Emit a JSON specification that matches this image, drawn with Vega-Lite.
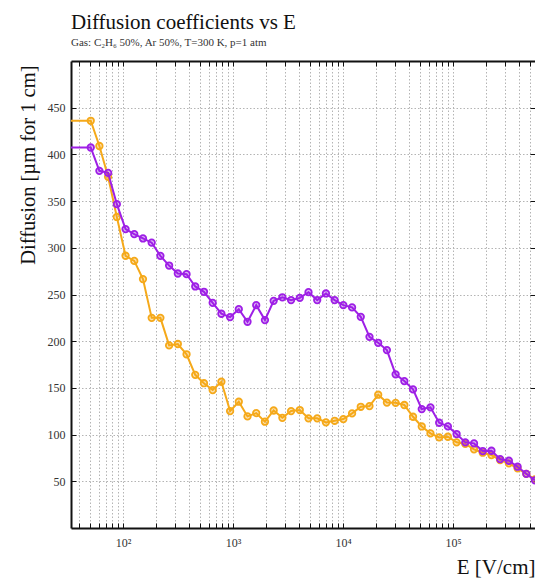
{
  "$schema": "https://vega.github.io/schema/vega-lite/v6.json",
  "width": 464,
  "height": 467,
  "autosize": {"type": "none"},
  "padding": {"left": 71, "top": 61, "right": 0, "bottom": 55},
  "background": "white",
  "title": {
    "text": "Diffusion coefficients vs E",
    "subtitle": "Gas: C₂H₆ 50%, Ar 50%, T=300 K, p=1 atm",
    "anchor": "start",
    "frame": "group",
    "font": "Liberation Serif",
    "fontSize": 21,
    "fontWeight": "normal",
    "color": "#111111",
    "subtitleFont": "Liberation Serif",
    "subtitleFontSize": 11,
    "subtitleColor": "#333333",
    "subtitlePadding": 4,
    "offset": 13
  },
  "config": {
    "view": {"stroke": null},
    "axis": {
      "labelFont": "Liberation Serif",
      "labelFontSize": 12,
      "labelColor": "#333333",
      "titleFont": "Liberation Serif",
      "titleFontWeight": "normal",
      "titleColor": "#111111",
      "domainColor": "#111111",
      "domainWidth": 2,
      "tickColor": "#111111",
      "tickWidth": 1,
      "gridColor": "#b4b4b4",
      "gridDash": [1.5, 2],
      "gridWidth": 1
    }
  },
  "data": {
    "values": [
      {"E": 30, "D": 436, "s": "L"},
      {"E": 50.9, "D": 436, "s": "L"},
      {"E": 61.0, "D": 409, "s": "L"},
      {"E": 73.2, "D": 376, "s": "L"},
      {"E": 87.9, "D": 333, "s": "L"},
      {"E": 105.5, "D": 291.5, "s": "L"},
      {"E": 126.6, "D": 286, "s": "L"},
      {"E": 151.9, "D": 266.5, "s": "L"},
      {"E": 182.3, "D": 225, "s": "L"},
      {"E": 218.8, "D": 225, "s": "L"},
      {"E": 262.6, "D": 195.5, "s": "L"},
      {"E": 315.1, "D": 197, "s": "L"},
      {"E": 378.2, "D": 186, "s": "L"},
      {"E": 453.8, "D": 164, "s": "L"},
      {"E": 544.5, "D": 155, "s": "L"},
      {"E": 653.5, "D": 147.7, "s": "L"},
      {"E": 784.2, "D": 156.6, "s": "L"},
      {"E": 941, "D": 125.2, "s": "L"},
      {"E": 1129, "D": 135.2, "s": "L"},
      {"E": 1355, "D": 119.5, "s": "L"},
      {"E": 1626, "D": 123, "s": "L"},
      {"E": 1952, "D": 113.8, "s": "L"},
      {"E": 2342, "D": 125.8, "s": "L"},
      {"E": 2811, "D": 118, "s": "L"},
      {"E": 3373, "D": 125.2, "s": "L"},
      {"E": 4048, "D": 126.3, "s": "L"},
      {"E": 4858, "D": 117.4, "s": "L"},
      {"E": 5829, "D": 117.4, "s": "L"},
      {"E": 6995, "D": 113.1, "s": "L"},
      {"E": 8395, "D": 114.8, "s": "L"},
      {"E": 10074, "D": 116.6, "s": "L"},
      {"E": 12090, "D": 122.7, "s": "L"},
      {"E": 14507, "D": 129.8, "s": "L"},
      {"E": 17410, "D": 130.5, "s": "L"},
      {"E": 20893, "D": 142.7, "s": "L"},
      {"E": 25070, "D": 134.3, "s": "L"},
      {"E": 30090, "D": 134, "s": "L"},
      {"E": 36110, "D": 131.7, "s": "L"},
      {"E": 43330, "D": 119.1, "s": "L"},
      {"E": 52000, "D": 108.7, "s": "L"},
      {"E": 62400, "D": 101.3, "s": "L"},
      {"E": 74880, "D": 97, "s": "L"},
      {"E": 89860, "D": 97.7, "s": "L"},
      {"E": 107840, "D": 91.7, "s": "L"},
      {"E": 129420, "D": 90, "s": "L"},
      {"E": 155310, "D": 84.2, "s": "L"},
      {"E": 186380, "D": 80.6, "s": "L"},
      {"E": 223670, "D": 78.1, "s": "L"},
      {"E": 268410, "D": 72.8, "s": "L"},
      {"E": 322100, "D": 69.2, "s": "L"},
      {"E": 386540, "D": 63.9, "s": "L"},
      {"E": 463870, "D": 58, "s": "L"},
      {"E": 556000, "D": 52, "s": "L"},
      {"E": 30, "D": 407.4, "s": "T"},
      {"E": 50.9, "D": 407.4, "s": "T"},
      {"E": 61.0, "D": 382.4, "s": "T"},
      {"E": 73.2, "D": 380.2, "s": "T"},
      {"E": 87.9, "D": 346.7, "s": "T"},
      {"E": 105.5, "D": 320, "s": "T"},
      {"E": 126.6, "D": 314.6, "s": "T"},
      {"E": 151.9, "D": 310, "s": "T"},
      {"E": 182.3, "D": 305.5, "s": "T"},
      {"E": 218.8, "D": 291.4, "s": "T"},
      {"E": 262.6, "D": 281, "s": "T"},
      {"E": 315.1, "D": 272.5, "s": "T"},
      {"E": 378.2, "D": 271.8, "s": "T"},
      {"E": 453.8, "D": 258.6, "s": "T"},
      {"E": 544.5, "D": 252.9, "s": "T"},
      {"E": 653.5, "D": 241.1, "s": "T"},
      {"E": 784.2, "D": 229.4, "s": "T"},
      {"E": 941, "D": 225.8, "s": "T"},
      {"E": 1129, "D": 234.3, "s": "T"},
      {"E": 1355, "D": 220.8, "s": "T"},
      {"E": 1626, "D": 238.6, "s": "T"},
      {"E": 1952, "D": 222.6, "s": "T"},
      {"E": 2342, "D": 243.2, "s": "T"},
      {"E": 2811, "D": 247, "s": "T"},
      {"E": 3373, "D": 244, "s": "T"},
      {"E": 4048, "D": 246.4, "s": "T"},
      {"E": 4858, "D": 252.5, "s": "T"},
      {"E": 5829, "D": 244, "s": "T"},
      {"E": 6995, "D": 251.1, "s": "T"},
      {"E": 8395, "D": 244, "s": "T"},
      {"E": 10074, "D": 238.6, "s": "T"},
      {"E": 12090, "D": 236.2, "s": "T"},
      {"E": 14507, "D": 226.1, "s": "T"},
      {"E": 17410, "D": 204.7, "s": "T"},
      {"E": 20893, "D": 198.3, "s": "T"},
      {"E": 25070, "D": 190.5, "s": "T"},
      {"E": 30090, "D": 164.5, "s": "T"},
      {"E": 36110, "D": 157.3, "s": "T"},
      {"E": 43330, "D": 148.4, "s": "T"},
      {"E": 52000, "D": 127.3, "s": "T"},
      {"E": 62400, "D": 129.2, "s": "T"},
      {"E": 74880, "D": 112.7, "s": "T"},
      {"E": 89860, "D": 108.8, "s": "T"},
      {"E": 107840, "D": 100.6, "s": "T"},
      {"E": 129420, "D": 91.7, "s": "T"},
      {"E": 155310, "D": 90.6, "s": "T"},
      {"E": 186380, "D": 82.4, "s": "T"},
      {"E": 223670, "D": 82.7, "s": "T"},
      {"E": 268410, "D": 73.8, "s": "T"},
      {"E": 322100, "D": 72, "s": "T"},
      {"E": 386540, "D": 65.6, "s": "T"},
      {"E": 463870, "D": 58, "s": "T"},
      {"E": 556000, "D": 51, "s": "T"}
    ]
  },
  "layer": [
    {
      "transform": [{"filter": "datum.s === 'L'"}],
      "mark": {"type": "line", "color": "#f5a91a", "strokeWidth": 2, "clip": true},
      "encoding": {
        "x": {
          "field": "E", "type": "quantitative",
          "scale": {"type": "log", "domain": [33.67, 556600], "nice": false},
          "axis": {
            "orient": "bottom",
            "values": [40,50,60,70,80,90,100,200,300,400,500,600,700,800,900,1000,2000,3000,4000,5000,6000,7000,8000,9000,10000,20000,30000,40000,50000,60000,70000,80000,90000,100000,200000,300000,400000,500000],
            "labelExpr": "datum.value == 100 ? '10²' : datum.value == 1000 ? '10³' : datum.value == 10000 ? '10⁴' : datum.value == 100000 ? '10⁵' : ''",
            "labelOverlap": false,
            "labelFlush": false,
            "labelBaseline": "top",
            "tickSize": -5,
            "labelPadding": 14,
            "grid": true,
            "title": "E [V/cm]",
            "titleFontSize": 21,
            "titleAnchor": "end",
            "titleAlign": "right",
            "titleBaseline": "alphabetic",
            "titleX": 464,
            "titleY": 45
          }
        },
        "y": {
          "field": "D", "type": "quantitative",
          "scale": {"domain": [0, 500], "nice": false},
          "axis": {
            "orient": "left",
            "values": [50,100,150,200,250,300,350,400,450],
            "tickSize": -5,
            "labelPadding": 11,
            "grid": true,
            "title": "Diffusion [µm for 1 cm]",
            "titleFontSize": 20.5,
            "titleAngle": 270,
            "titleAnchor": "end",
            "titleAlign": "right",
            "titleBaseline": "alphabetic",
            "titleX": -37,
            "titleY": 4
          }
        }
      }
    },
    {
      "transform": [{"filter": "datum.s === 'L'"}],
      "mark": {"type": "point", "filled": true, "color": "#f5a91a", "fillOpacity": 0.35, "stroke": "#f5a91a", "strokeWidth": 1.8, "size": 42, "clip": true},
      "encoding": {
        "x": {"field": "E", "type": "quantitative", "scale": {"type": "log", "domain": [33.67, 556600], "nice": false}, "axis": null},
        "y": {"field": "D", "type": "quantitative", "scale": {"domain": [0, 500], "nice": false}, "axis": null}
      }
    },
    {
      "transform": [{"filter": "datum.s === 'T'"}],
      "mark": {"type": "line", "color": "#9e1fe6", "strokeWidth": 2, "clip": true},
      "encoding": {
        "x": {"field": "E", "type": "quantitative", "scale": {"type": "log", "domain": [33.67, 556600], "nice": false}, "axis": null},
        "y": {"field": "D", "type": "quantitative", "scale": {"domain": [0, 500], "nice": false}, "axis": null}
      }
    },
    {
      "transform": [{"filter": "datum.s === 'T'"}],
      "mark": {"type": "point", "filled": true, "color": "#9e1fe6", "fillOpacity": 0.35, "stroke": "#9e1fe6", "strokeWidth": 1.8, "size": 42, "clip": true},
      "encoding": {
        "x": {
          "field": "E", "type": "quantitative",
          "scale": {"type": "log", "domain": [33.67, 556600], "nice": false},
          "axis": {
            "orient": "top",
            "values": [40,50,60,70,80,90,100,200,300,400,500,600,700,800,900,1000,2000,3000,4000,5000,6000,7000,8000,9000,10000,20000,30000,40000,50000,60000,70000,80000,90000,100000,200000,300000,400000,500000],
            "labels": false,
            "tickSize": -5,
            "grid": false,
            "title": null
          }
        },
        "y": {
          "field": "D", "type": "quantitative",
          "scale": {"domain": [0, 500], "nice": false},
          "axis": {
            "orient": "right",
            "values": [50,100,150,200,250,300,350,400,450],
            "labels": false,
            "tickSize": -5,
            "grid": false,
            "domain": false,
            "title": null
          }
        }
      }
    }
  ],
  "resolve": {"axis": {"x": "independent", "y": "independent"}}
}
